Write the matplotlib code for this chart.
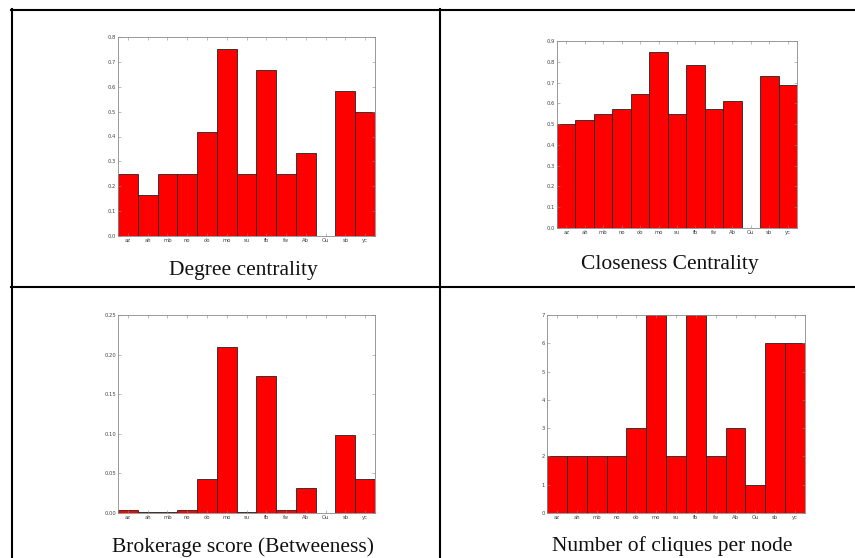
import matplotlib
matplotlib.use('Agg')
import matplotlib.pyplot as plt
from matplotlib.lines import Line2D
import numpy as np

# Node labels
nodes = ['az', 'ah', 'mb', 'no', 'ob', 'mo', 'su', 'fb', 'fw', 'Ab', 'Ou', 'sb', 'yc']

# Metric values per node
degree = [0.25, 0.1667, 0.25, 0.25, 0.4167, 0.75, 0.25, 0.6667, 0.25, 0.3333, 0.0, 0.5833, 0.5]
closeness = [0.50, 0.522, 0.548, 0.575, 0.645, 0.846, 0.548, 0.786, 0.575, 0.611, 0.0, 0.73, 0.686]
betweenness = [0.0034, 0.001, 0.001, 0.004, 0.043, 0.210, 0.001, 0.173, 0.004, 0.032, 0.0, 0.099, 0.043]
cliques = [2, 2, 2, 2, 3, 7, 2, 7, 2, 3, 1, 6, 6]

captions = ['Degree centrality', 'Closeness Centrality',
            'Brokerage score (Betweeness)', 'Number of cliques per node']

W, H = 855, 558
fig = plt.figure(figsize=(W / 100, H / 100), dpi=100)
fig.patch.set_facecolor('white')


def px_axes(x0, y0, x1, y1):
    # pixel box (top-left origin) -> figure axes
    return fig.add_axes([x0 / W, 1 - y1 / H, (x1 - x0) / W, (y1 - y0) / H])


def draw(ax, values, ymax, step, fmt):
    x = np.arange(len(nodes))
    ax.bar(x + 0.5, values, width=1.0, color='red', edgecolor='#222222', linewidth=0.6)
    ax.set_xlim(0, len(nodes))
    ax.set_ylim(0, ymax)
    ax.set_xticks(x + 0.5)
    ax.set_xticklabels(nodes)
    ticks = np.arange(0, ymax + step / 2, step)
    ax.set_yticks(ticks)
    ax.set_yticklabels([fmt.format(t) for t in ticks])
    ax.tick_params(direction='in', top=True, right=True, length=2, width=0.4,
                   labelsize=3.8, labelcolor='#444444', color='#888888', pad=1.5)
    for s in ax.spines.values():
        s.set_linewidth(0.6)
        s.set_color('#888888')


ax1 = px_axes(118, 37, 375, 236)
draw(ax1, degree, 0.8, 0.1, '{:.1f}')
ax2 = px_axes(557, 41, 797, 228)
draw(ax2, closeness, 0.9, 0.1, '{:.1f}')
ax3 = px_axes(118, 315, 375, 513)
draw(ax3, betweenness, 0.25, 0.05, '{:.2f}')
ax4 = px_axes(547, 315, 805, 513)
draw(ax4, cliques, 7, 1, '{:.0f}')

# Captions
cap_pos = [(243, 270), (670, 265), (243, 547), (672, 546)]
for (cx, cy), txt in zip(cap_pos, captions):
    fig.text(cx / W, 1 - cy / H, txt, ha='center', va='center',
             fontsize=15.5, family='Liberation Serif', color='#111111')

# Table borders
def hline(y, x0, x1):
    fig.add_artist(Line2D([x0 / W, x1 / W], [1 - y / H, 1 - y / H], color='black', lw=1.5))


def vline(x, y0, y1):
    fig.add_artist(Line2D([x / W, x / W], [1 - y0 / H, 1 - y1 / H], color='black', lw=1.5))


hline(9.5, 11, W)
hline(286.5, 11, W)
vline(11.5, 9, H)
vline(440, 9, H)

fig.savefig('out.png', dpi=100, facecolor='white')
